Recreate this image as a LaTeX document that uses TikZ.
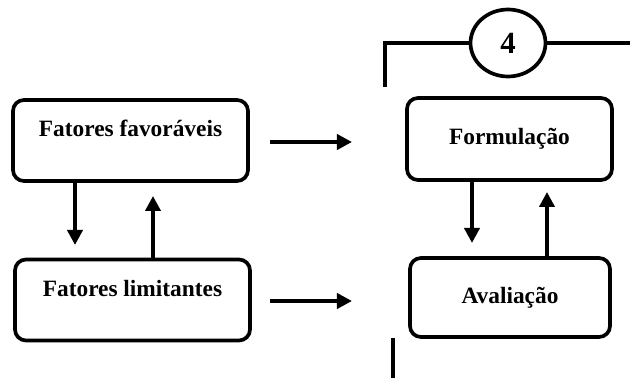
\documentclass[tikz,border=0pt]{standalone}
\usepackage{fontspec}
\setmainfont{Liberation Serif}
\usetikzlibrary{arrows.meta,positioning,shapes.geometric}

\begin{document}
\begin{tikzpicture}[every node/.style={font=\fontsize{13.3}{15}\selectfont\bfseries},
 box/.style={draw,line width=2.1pt,rounded corners=0.22cm,minimum width=4.7cm,minimum height=1.62cm},
 upper/.style={text height=0.3cm,text depth=0.44cm},
 arr/.style={-{Triangle[length=0.3cm,width=0.3cm]},line width=2.1pt},
 ln/.style={line width=2.1pt}]
\useasboundingbox (0,0) rectangle (12.6,7.56);
\node[box,upper] (fav) at (2.61,4.75) {Fatores favoráveis};
\node[box,upper] (lim) at (2.65,1.56) {Fatores limitantes};
\node[box,minimum width=4.1cm,minimum height=1.64cm] (form) at (10.19,4.78) {Formulação};
\node[box,minimum width=4.0cm,minimum height=1.58cm] (aval) at (10.2,1.61) {Avaliação};
\node[draw,ellipse,ln,minimum width=1.5cm,minimum height=1.34cm,inner sep=0pt,font=\fontsize{17.5}{20}\selectfont\bfseries] (num) at (10.16,6.7) {4};
% coordinates for the free arrow ends
\coordinate (fd) at (1.5,2.66); \coordinate (fu) at (3.06,3.64);
\coordinate (t1) at (5.4,4.72); \coordinate (t2) at (7.04,4.72);
\coordinate (b1) at (5.4,1.54); \coordinate (b2) at (7.04,1.54);
\coordinate (rd) at (9.44,2.7); \coordinate (ru) at (10.94,3.72);
\coordinate (c1) at (7.7,5.82); \coordinate (c2) at (7.7,6.7); \coordinate (c3) at (12.6,6.7);
\coordinate (e1) at (7.86,0.8); \coordinate (e2) at (7.86,0);
\draw[arr](fav.south -| fd)--(fd);\draw[arr](lim.north -| fu)--(fu);
\draw[arr](t1)--(t2);\draw[arr](b1)--(b2);
\draw[arr](form.south -| rd)--(rd);\draw[arr](aval.north -| ru)--(ru);
\draw[ln](c1)--(c2)--(num.west);\draw[ln](num.east)--(c3);
\draw[ln](e1)--(e2);
\end{tikzpicture}
\end{document}
